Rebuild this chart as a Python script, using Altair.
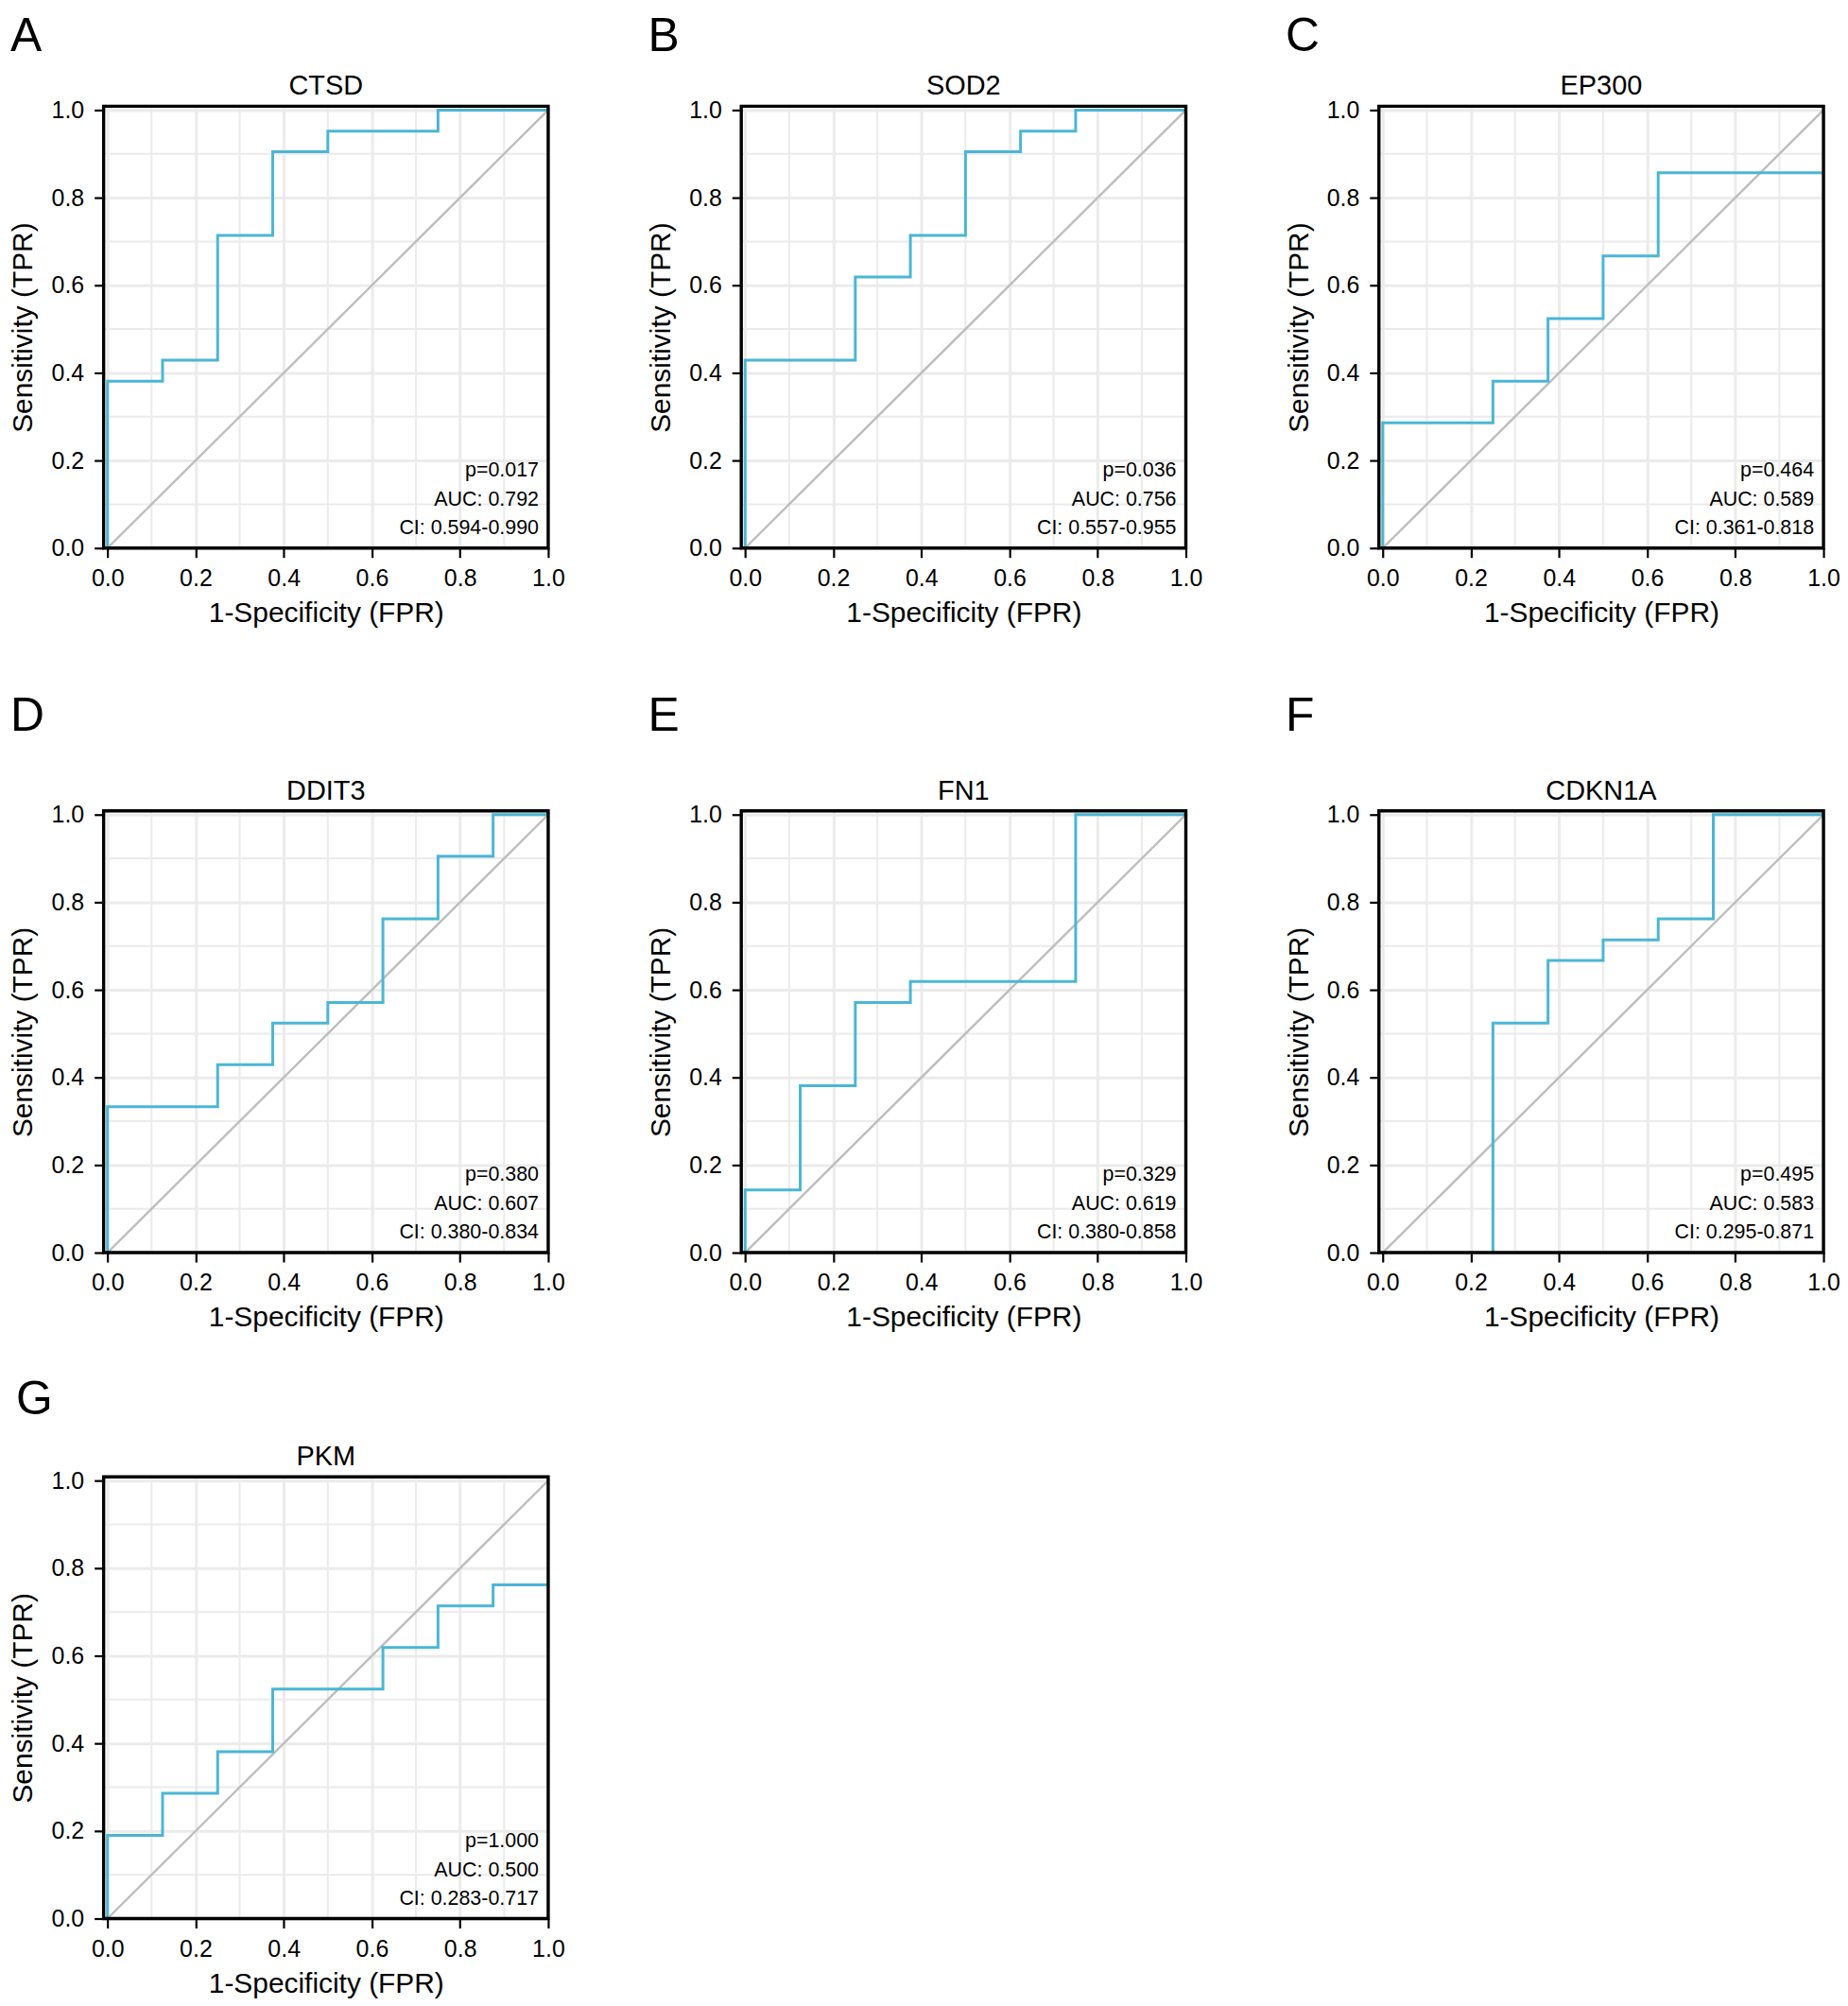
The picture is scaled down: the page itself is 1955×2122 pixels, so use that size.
import altair as alt
import pandas as pd

# ---------------- data ----------------
genes = ["CTSD", "SOD2", "EP300", "DDIT3", "FN1", "CDKN1A", "PKM"]
letters = ["A", "B", "C", "D", "E", "F", "G"]

fpr_ctsd = [0, 0, 0.125, 0.125, 0.25, 0.25, 0.375, 0.375, 0.5, 0.5, 0.75, 0.75, 1.0]
tpr_ctsd = [0, 0.381, 0.381, 0.429, 0.429, 0.714, 0.714, 0.905, 0.905, 0.952, 0.952, 1.0, 1.0]

fpr_sod2 = [0, 0, 0.25, 0.25, 0.375, 0.375, 0.5, 0.5, 0.625, 0.625, 0.75, 0.75, 1.0]
tpr_sod2 = [0, 0.429, 0.429, 0.619, 0.619, 0.714, 0.714, 0.905, 0.905, 0.952, 0.952, 1.0, 1.0]

fpr_ep300 = [0, 0, 0.25, 0.25, 0.375, 0.375, 0.5, 0.5, 0.625, 0.625, 1.0]
tpr_ep300 = [0, 0.286, 0.286, 0.381, 0.381, 0.524, 0.524, 0.667, 0.667, 0.857, 0.857]

fpr_ddit3 = [0, 0, 0.25, 0.25, 0.375, 0.375, 0.5, 0.5, 0.625, 0.625, 0.75, 0.75, 0.875, 0.875, 1.0]
tpr_ddit3 = [0, 0.333, 0.333, 0.429, 0.429, 0.524, 0.524, 0.571, 0.571, 0.762, 0.762, 0.905, 0.905, 1.0, 1.0]

fpr_fn1 = [0, 0, 0.125, 0.125, 0.25, 0.25, 0.375, 0.375, 0.75, 0.75, 1.0]
tpr_fn1 = [0, 0.143, 0.143, 0.381, 0.381, 0.571, 0.571, 0.619, 0.619, 1.0, 1.0]

fpr_cdkn1a = [0.25, 0.25, 0.375, 0.375, 0.5, 0.5, 0.625, 0.625, 0.75, 0.75, 1.0]
tpr_cdkn1a = [0, 0.524, 0.524, 0.667, 0.667, 0.714, 0.714, 0.762, 0.762, 1.0, 1.0]

fpr_pkm = [0, 0, 0.125, 0.125, 0.25, 0.25, 0.375, 0.375, 0.625, 0.625, 0.75, 0.75, 0.875, 0.875, 1.0]
tpr_pkm = [0, 0.190, 0.190, 0.286, 0.286, 0.381, 0.381, 0.524, 0.524, 0.619, 0.619, 0.714, 0.714, 0.762, 0.762]

p_labels = ["p=0.017", "p=0.036", "p=0.464", "p=0.380", "p=0.329", "p=0.495", "p=1.000"]
auc_labels = ["AUC: 0.792", "AUC: 0.756", "AUC: 0.589", "AUC: 0.607", "AUC: 0.619", "AUC: 0.583", "AUC: 0.500"]
ci_labels = ["CI: 0.594-0.990", "CI: 0.557-0.955", "CI: 0.361-0.818", "CI: 0.380-0.834",
             "CI: 0.380-0.858", "CI: 0.295-0.871", "CI: 0.283-0.717"]

diag_x = [0, 1]
diag_y = [0, 1]
minor_ticks = [0.1, 0.3, 0.5, 0.7, 0.9]
major_ticks = [0.0, 0.2, 0.4, 0.6, 0.8, 1.0]

curves = [
    (fpr_ctsd, tpr_ctsd), (fpr_sod2, tpr_sod2), (fpr_ep300, tpr_ep300),
    (fpr_ddit3, tpr_ddit3), (fpr_fn1, tpr_fn1), (fpr_cdkn1a, tpr_cdkn1a),
    (fpr_pkm, tpr_pkm),
]

# ---------------- layout / style ----------------
W, H = 472, 469
FONT = "Liberation Sans"
ROC_COLOR = "#4BB6D6"
DIAG_COLOR = "#BDBDBD"
GRID_COLOR = "#EBEBEB"
# letter offsets relative to each plot's top-left corner
letter_pos = [(-99, -59), (-99, -59), (-99, -59),
              (-99, -85), (-99, -85), (-99, -85),
              (-93, -66)]

xscale = alt.Scale(domain=[-0.0087, 1.0], nice=False, zero=False)
yscale = alt.Scale(domain=[0.0, 1.0087], nice=False, zero=False)

xaxis = alt.Axis(values=major_ticks, format=".1f", labelFontSize=25, labelColor="black",
                 labelFlush=False, labelPadding=10, labelFont=FONT,
                 tickColor="black", tickWidth=2.2, tickSize=10, domain=False,
                 grid=True, gridColor=GRID_COLOR, gridWidth=3,
                 title="1-Specificity (FPR)", titleFontSize=30, titleFontWeight="normal",
                 titleColor="black", titleFont=FONT, titleX=W / 2, titleY=69,
                 titleBaseline="middle", titleAlign="center")
yaxis = alt.Axis(values=major_ticks, format=".1f", labelFontSize=25, labelColor="black",
                 labelFlush=False, labelPadding=11, labelFont=FONT,
                 tickColor="black", tickWidth=2.2, tickSize=10, domain=False,
                 grid=True, gridColor=GRID_COLOR, gridWidth=3,
                 title="Sensitivity (TPR)", titleFontSize=30, titleFontWeight="normal",
                 titleColor="black", titleFont=FONT, titleX=-85, titleY=H / 2,
                 titleAngle=270, titleBaseline="middle", titleAlign="center")

one_row = pd.DataFrame({"v": [0]})


def panel(i):
    fpr, tpr = curves[i]
    roc = pd.DataFrame({"fpr": fpr, "tpr": tpr, "order": list(range(len(fpr)))})
    diag = pd.DataFrame({"fpr": diag_x, "tpr": diag_y})
    minor = pd.DataFrame({"fpr": minor_ticks, "tpr": minor_ticks})
    info = pd.DataFrame({"gene": [genes[i]], "letter": [letters[i]], "p": [p_labels[i]],
                         "auc": [auc_labels[i]], "ci": [ci_labels[i]]})

    x = alt.X("fpr:Q", scale=xscale, axis=xaxis)
    y = alt.Y("tpr:Q", scale=yscale, axis=yaxis)

    vgrid = alt.Chart(minor).mark_rule(color=GRID_COLOR, strokeWidth=2).encode(x=x)
    hgrid = alt.Chart(minor).mark_rule(color=GRID_COLOR, strokeWidth=2).encode(y=y)
    dline = alt.Chart(diag).mark_line(color=DIAG_COLOR, strokeWidth=2.4).encode(x=x, y=y)
    rline = alt.Chart(roc).mark_line(color=ROC_COLOR, strokeWidth=3).encode(
        x=x, y=y, order="order:Q")
    frame = alt.Chart(one_row).mark_rect(fillOpacity=0, stroke="black", strokeWidth=3.4).encode(
        x=alt.value(0), x2=alt.value(W), y=alt.value(0), y2=alt.value(H))

    def txt(field, yy):
        return alt.Chart(info).mark_text(align="right", baseline="middle", fontSize=21.5,
                                         font=FONT, color="black").encode(
            text=f"{field}:N", x=alt.value(W - 10), y=alt.value(yy))

    title = alt.Chart(info).mark_text(align="center", baseline="alphabetic", fontSize=29,
                                      font=FONT, color="black").encode(
        text="gene:N", x=alt.value(W / 2), y=alt.value(-12))
    lx, ly = letter_pos[i]
    letter = alt.Chart(info).mark_text(align="left", baseline="alphabetic", fontSize=50,
                                       font=FONT, color="black").encode(
        text="letter:N", x=alt.value(lx), y=alt.value(ly))

    return alt.layer(vgrid, hgrid, dline, rline, txt("p", 387), txt("auc", 418),
                     txt("ci", 448), frame, title, letter).properties(width=W, height=H)


def spacer(h):
    return alt.Chart(one_row).mark_point(opacity=0).encode(
        x=alt.value(0), y=alt.value(0)).properties(width=W, height=h)


panels = [panel(i) for i in range(7)]
items = panels[0:3] + [spacer(279) for _ in range(3)] + panels[3:6] + \
    [spacer(238) for _ in range(3)] + panels[6:7]

chart = alt.concat(*items, columns=3, spacing={"row": 0, "column": 205},
                   align="each", bounds="flush").properties(
    padding={"left": 2, "top": 2, "right": 0, "bottom": 0}, background="white"
).configure(font=FONT).configure_view(strokeWidth=0)

chart.save("out.html", embed_options={"renderer": "svg", "actions": False})
